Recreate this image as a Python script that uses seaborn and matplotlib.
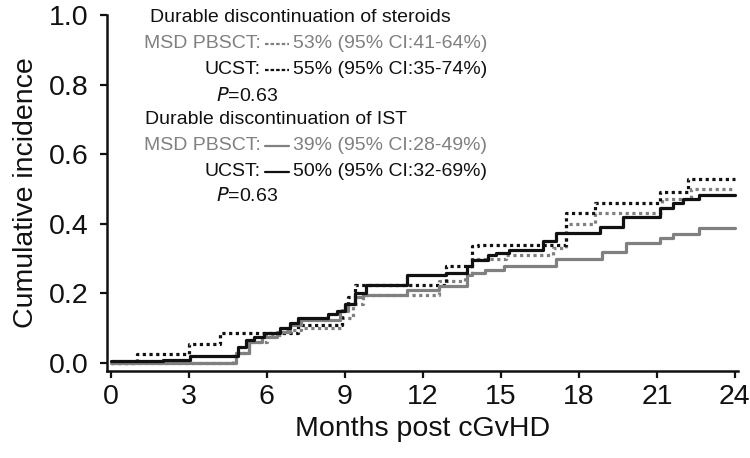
import matplotlib
matplotlib.use("Agg")
import matplotlib.pyplot as plt
from matplotlib.lines import Line2D
import seaborn as sns
import pandas as pd

# ---- data ----
ucst_ist_t = [0, 2.0, 3.05, 4.9, 5.2, 5.5, 5.9, 6.5, 6.9, 7.2, 8.35, 8.7, 9.0, 9.4, 9.8,
              11.4, 12.9, 13.7, 13.9, 14.5, 14.8, 15.3, 16.6, 17.1, 18.8, 19.7, 21.1,
              21.6, 22.0, 22.6, 24]
ucst_ist_v = [0.005, 0.01, 0.02, 0.045, 0.066, 0.075, 0.085, 0.10, 0.115, 0.13, 0.14, 0.15,
              0.17, 0.20, 0.224, 0.253, 0.26, 0.28, 0.296, 0.31, 0.316, 0.325, 0.35, 0.374,
              0.39, 0.42, 0.445, 0.46, 0.47, 0.483, 0.483]

msd_ist_t = [0, 4.8, 5.3, 5.8, 6.4, 6.9, 7.3, 8.8, 9.1, 9.4, 9.7, 11.4, 12.6, 13.7, 13.9,
             14.4, 15.1, 17.1, 18.9, 19.8, 21.1, 21.6, 22.6, 24]
msd_ist_v = [0.0, 0.03, 0.06, 0.075, 0.09, 0.11, 0.124, 0.15, 0.17, 0.19, 0.195, 0.21, 0.22,
             0.253, 0.26, 0.267, 0.28, 0.30, 0.32, 0.345, 0.36, 0.37, 0.388, 0.388]

ucst_ster_t = [0, 1.0, 3.0, 4.2, 7.2, 8.9, 9.1, 9.4, 12.9, 13.9, 14.1, 17.5, 18.6, 21.1,
               22.2, 24]
ucst_ster_v = [0.0, 0.027, 0.055, 0.086, 0.11, 0.16, 0.19, 0.224, 0.28, 0.335, 0.34, 0.43,
               0.46, 0.49, 0.53, 0.53]

msd_ster_t = [0, 4.7, 5.3, 6.0, 6.6, 7.3, 8.9, 9.3, 9.7, 12.6, 13.6, 13.9, 15.2, 17.0, 17.5,
              18.6, 21.2, 22.3, 24]
msd_ster_v = [0.0, 0.03, 0.06, 0.08, 0.095, 0.10, 0.13, 0.17, 0.195, 0.235, 0.26, 0.30, 0.31,
              0.33, 0.40, 0.43, 0.47, 0.50, 0.50]

x_ticks = [0, 3, 6, 9, 12, 15, 18, 21, 24]
y_ticks = [0.0, 0.2, 0.4, 0.6, 0.8, 1.0]

GRAY = "#808080"
BLACK = "#111111"

sns.set_theme(style="ticks")
plt.rcParams["font.family"] = ["Liberation Sans", "DejaVu Sans"]

W, H = 750, 458
fig = plt.figure(figsize=(7.5, 4.58), dpi=100)
ax = fig.add_axes([107 / W, 1 - 371 / H, (737.5 - 107) / W, (371 - 15) / H])

dot = (0, (1.0, 1.1))
series = [
    (msd_ster_t, msd_ster_v, GRAY, dot),
    (ucst_ster_t, ucst_ster_v, BLACK, dot),
    (msd_ist_t, msd_ist_v, GRAY, "-"),
    (ucst_ist_t, ucst_ist_v, BLACK, "-"),
]
for t, v, c, ls in series:
    df = pd.DataFrame({"t": t, "v": v})
    sns.lineplot(data=df, x="t", y="v", ax=ax, color=c, drawstyle="steps-post",
                 linewidth=2.3, estimator=None, sort=True)
    ax.lines[-1].set_linestyle(ls)
    ax.lines[-1].set_dash_capstyle("butt")

ax.set_xlim(-0.15, 24.1)
ax.set_ylim(-0.023, 1.0)
ax.set_xticks(x_ticks)
ax.set_xticklabels([str(x) for x in x_ticks])
ax.set_yticks(y_ticks)
ax.set_yticklabels([f"{y:.1f}" for y in y_ticks])
for s in ["top", "right"]:
    ax.spines[s].set_visible(False)
for s in ["left", "bottom"]:
    ax.spines[s].set_linewidth(1.8)
    ax.spines[s].set_color("#111111")
ax.tick_params(axis="both", length=5, width=1.6, color="#111111", labelsize=20.5,
               labelcolor="#111111")
ax.tick_params(axis="y", pad=8)
ax.tick_params(axis="x", pad=4)
ax.set_xlabel("Months post cGvHD", fontsize=20.5, color="#111111", labelpad=5)
ax.set_ylabel("Cumulative incidence", fontsize=20.5, color="#111111", labelpad=7)

# ---- annotation block ----
fs = 14
def ftxt(px, py, s, color=BLACK, ha="left", **kw):
    fig.text(px / W, 1 - py / H, s, fontsize=fs, color=color, ha=ha, va="center", **kw)

def key(py, color, ls):
    fig.add_artist(Line2D([265 / W, 289 / W], [1 - py / H, 1 - py / H], color=color,
                          linestyle=ls, linewidth=1.6, transform=fig.transFigure))

dash_key = (0, (1.6, 0.9))
COLON = 261
NUM = 293
ftxt(150, 18, "Durable discontinuation of steroids")
ftxt(COLON, 44, "MSD PBSCT:", color=GRAY, ha="right")
key(44, GRAY, dash_key)
ftxt(NUM, 44, "53% (95% CI:41-64%)", color=GRAY)
ftxt(COLON, 70, "UCST:", ha="right")
key(70, BLACK, dash_key)
ftxt(NUM, 70, "55% (95% CI:35-74%)")
ftxt(216, 96, r"$\it{P}$=0.63")

ftxt(145, 120, "Durable discontinuation of IST")
ftxt(COLON, 146, "MSD PBSCT:", color=GRAY, ha="right")
key(146, GRAY, "-")
ftxt(NUM, 146, "39% (95% CI:28-49%)", color=GRAY)
ftxt(COLON, 172, "UCST:", ha="right")
key(172, BLACK, "-")
ftxt(NUM, 172, "50% (95% CI:32-69%)")
ftxt(216, 196, r"$\it{P}$=0.63")

fig.savefig("out.png", dpi=100)
